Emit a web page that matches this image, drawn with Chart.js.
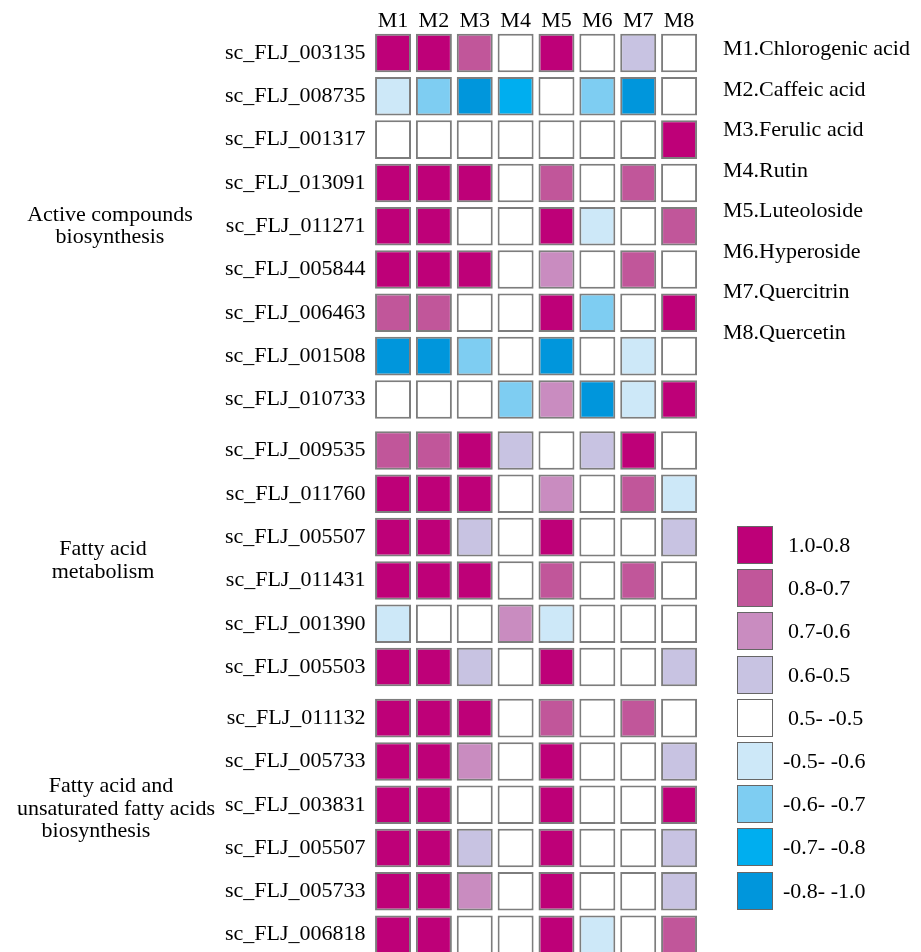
<!DOCTYPE html>
<html>
<head>
<meta charset="utf-8">
<script src="https://cdn.jsdelivr.net/npm/chart.js@4/dist/chart.umd.min.js"></script>
<style>
  html, body { margin: 0; padding: 0; background: #fff; overflow: hidden; }
  #wrap { position: relative; width: 921px; height: 980px; font-family: "Liberation Serif", "Times New Roman", serif; color: #000; }
  #c { position: absolute; left: 0; top: 0; }
  .t { position: absolute; font-size: 22px; line-height: 22px; white-space: nowrap; }
  .ctr { transform: translate(-50%, -50%); }
  .lft { transform: translate(0, -50%); }
  .sw { position: absolute; width: 36px; height: 38px; box-sizing: border-box; border: 1.5px solid #666; }
</style>
</head>
<body>
<div id="wrap">
  <canvas id="c" width="921" height="980"></canvas>
</div>
<script>
// ---------- DATA ----------
const compounds = ['M1', 'M2', 'M3', 'M4', 'M5', 'M6', 'M7', 'M8'];
const compoundNames = ['M1.Chlorogenic acid', 'M2.Caffeic acid', 'M3.Ferulic acid', 'M4.Rutin',
  'M5.Luteoloside', 'M6.Hyperoside', 'M7.Quercitrin', 'M8.Quercetin'];
const genes = ['sc_FLJ_003135', 'sc_FLJ_008735', 'sc_FLJ_001317', 'sc_FLJ_013091', 'sc_FLJ_011271',
  'sc_FLJ_005844', 'sc_FLJ_006463', 'sc_FLJ_001508', 'sc_FLJ_010733',
  'sc_FLJ_009535', 'sc_FLJ_011760', 'sc_FLJ_005507', 'sc_FLJ_011431', 'sc_FLJ_001390', 'sc_FLJ_005503',
  'sc_FLJ_011132', 'sc_FLJ_005733', 'sc_FLJ_003831', 'sc_FLJ_005507', 'sc_FLJ_005733', 'sc_FLJ_006818'];
const geneGroup = [0,0,0,0,0,0,0,0,0, 1,1,1,1,1,1, 2,2,2,2,2,2];
const groupLabels = [
  ['Active compounds', 'biosynthesis'],
  ['Fatty acid', 'metabolism'],
  ['Fatty acid and', 'unsaturated fatty acids', 'biosynthesis']
];
// correlation values (estimated as the middle of each colour class)
const corr = [
  [0.9, 0.9, 0.75, 0, 0.9, 0, 0.55, 0],
  [-0.55, -0.65, -0.9, -0.75, 0, -0.65, -0.9, 0],
  [0, 0, 0, 0, 0, 0, 0, 0.9],
  [0.9, 0.9, 0.9, 0, 0.75, 0, 0.75, 0],
  [0.9, 0.9, 0, 0, 0.9, -0.55, 0, 0.75],
  [0.9, 0.9, 0.9, 0, 0.65, 0, 0.75, 0],
  [0.75, 0.75, 0, 0, 0.9, -0.65, 0, 0.9],
  [-0.9, -0.9, -0.65, 0, -0.9, 0, -0.55, 0],
  [0, 0, 0, -0.65, 0.65, -0.9, -0.55, 0.9],
  [0.75, 0.75, 0.9, 0.55, 0, 0.55, 0.9, 0],
  [0.9, 0.9, 0.9, 0, 0.65, 0, 0.75, -0.55],
  [0.9, 0.9, 0.55, 0, 0.9, 0, 0, 0.55],
  [0.9, 0.9, 0.9, 0, 0.75, 0, 0.75, 0],
  [-0.55, 0, 0, 0.65, -0.55, 0, 0, 0],
  [0.9, 0.9, 0.55, 0, 0.9, 0, 0, 0.55],
  [0.9, 0.9, 0.9, 0, 0.75, 0, 0.75, 0],
  [0.9, 0.9, 0.65, 0, 0.9, 0, 0, 0.55],
  [0.9, 0.9, 0, 0, 0.9, 0, 0, 0.9],
  [0.9, 0.9, 0.55, 0, 0.9, 0, 0, 0.55],
  [0.9, 0.9, 0.65, 0, 0.9, 0, 0, 0.55],
  [0.9, 0.9, 0, 0, 0.9, -0.55, 0, 0.75]
];
const classLabels = ['1.0-0.8', '0.8-0.7', '0.7-0.6', '0.6-0.5', '0.5- -0.5', '-0.5- -0.6', '-0.6- -0.7', '-0.7- -0.8', '-0.8- -1.0'];
const classLower = [0.8, 0.7, 0.6, 0.5, -0.5, -0.6, -0.7, -0.8, -1.01];

// ---------- STYLE ----------
const palette = ['#BE0078', '#C1569A', '#C98CC0', '#C8C3E2', '#FFFFFF', '#CDE8F8', '#7ECDF2', '#00AEEF', '#0096DC'];
function colorOf(v) {
  for (let i = 0; i < classLower.length; i++) if (v >= classLower[i]) return palette[i];
  return palette[palette.length - 1];
}
const GROUP_GAP = 0.18;
const rowPos = genes.map((g, i) => i + geneGroup[i] * GROUP_GAP);
const HALF = 0.445;
const FONT = { family: "'Liberation Serif', 'Times New Roman', serif", size: 22, lineHeight: 1 };

const datasets = genes.map((g, r) => ({
  label: g,
  data: compounds.map(() => [rowPos[r] - HALF, rowPos[r] + HALF]),
  backgroundColor: corr[r].map(colorOf),
  borderColor: '#7d7d7d',
  borderWidth: 2,
  borderSkipped: false,
  barPercentage: 0.88,
  categoryPercentage: 1,
  grouped: false
}));

new Chart(document.getElementById('c'), {
  type: 'bar',
  data: { labels: compounds, datasets },
  options: {
    responsive: false,
    animation: false,
    events: [],
    layout: { padding: { left: 0, right: 221.5, top: 0, bottom: 23.7 } },
    plugins: { legend: { display: false }, tooltip: { enabled: false } },
    scales: {
      x: {
        type: 'category',
        position: 'top',
        grid: { display: false, drawTicks: false },
        border: { display: false },
        ticks: { font: FONT, color: '#000', padding: -1 },
        afterFit(s) { s.height = 31.35; }
      },
      y: {
        type: 'linear',
        reverse: true,
        min: -0.5,
        max: rowPos[rowPos.length - 1] + 0.5,
        grid: { display: false, drawTicks: false },
        border: { display: false },
        afterFit(s) { s.width = 372.6; },
        afterBuildTicks(s) { s.ticks = rowPos.map(v => ({ value: v })); },
        ticks: { autoSkip: false, padding: 7, font: FONT, color: '#000', callback: (v, i) => genes[i] }
      }
    }
  }
});

// ---------- TEXT / KEYS ----------
const wrap = document.getElementById('wrap');
function addText(txt, x, y, cls) {
  const d = document.createElement('div');
  d.className = 't ' + cls;
  d.style.left = x + 'px';
  d.style.top = y + 'px';
  d.textContent = txt;
  wrap.appendChild(d);
}
// group labels (x-centre, y-centre of each line)
const groupLinePos = [
  [[110, 214], [110, 236]],
  [[103, 548], [103, 571]],
  [[111, 785], [116, 808], [96, 830]]
];
groupLabels.forEach((lines, g) => lines.forEach((l, k) => addText(l, groupLinePos[g][k][0], groupLinePos[g][k][1], 'ctr')));
// compound names
compoundNames.forEach((n, i) => addText(n, 723, 48 + i * 40.5, 'lft'));
// colour key
classLabels.forEach((lab, i) => {
  const top = 526 + i * 43.2;
  const s = document.createElement('div');
  s.className = 'sw';
  s.style.left = '737px';
  s.style.top = top + 'px';
  s.style.background = palette[i];
  wrap.appendChild(s);
  addText(lab, lab.startsWith('-') ? 783 : 788, top + 19, 'lft');
});
</script>
</body>
</html>
